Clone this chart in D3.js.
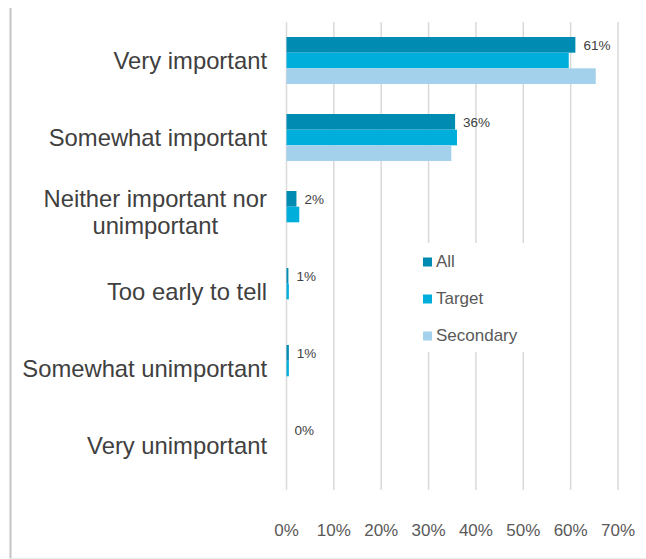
<!DOCTYPE html>
<html><head><meta charset="utf-8">
<script src="https://cdn.jsdelivr.net/npm/d3@7"></script>
<style>html,body{margin:0;padding:0;background:#fff;}svg{display:block;font-family:"Liberation Sans",Arial,sans-serif;}</style>
</head><body>
<svg id="c" width="646" height="559"></svg>
<script>
const categories = ["Very important","Somewhat important","Neither important nor unimportant","Too early to tell","Somewhat unimportant","Very unimportant"];
const categoryLines = [["Very important"],["Somewhat important"],["Neither important nor","unimportant"],["Too early to tell"],["Somewhat unimportant"],["Very unimportant"]];
const seriesNames = ["All","Target","Secondary"];
const allValues = [61.0, 35.6, 2.1, 0.4, 0.5, 0];
const targetValues = [59.6, 36.0, 2.7, 0.5, 0.5, 0];
const secondaryValues = [65.3, 34.8, 0, 0, 0, 0];
const allLabels = ["61%","36%","2%","1%","1%","0%"];
const tickValues = [0,10,20,30,40,50,60,70];
const colors = ["#008BB2","#00AEDB","#A3D1EB"];

const seriesValues = [allValues, targetValues, secondaryValues];
const svg = d3.select("#c");

svg.append("line").attr("x1",10.5).attr("x2",10.5).attr("y1",8).attr("y2",559)
  .attr("stroke","#c4c4c4").attr("stroke-width",2);
svg.append("line").attr("x1",10).attr("x2",646).attr("y1",558.5).attr("y2",558.5)
  .attr("stroke","#ececec").attr("stroke-width",1);

const x = d3.scaleLinear().domain([0,70]).range([286.5,618]);
const y = d3.scaleBand().domain(categories).range([22,484]).paddingInner(0.39).paddingOuter(0.195);
const yi = d3.scaleBand().domain(seriesNames).range([0,y.bandwidth()]);

svg.append("g").selectAll("line").data(tickValues).join("line")
  .attr("x1",d=>x(d)).attr("x2",d=>x(d)).attr("y1",22).attr("y2",490)
  .attr("stroke","#d9d9d9").attr("stroke-width",1.5);

svg.append("g").selectAll("text").data(tickValues).join("text")
  .attr("x",d=>x(d)).attr("y",536).attr("text-anchor","middle")
  .attr("font-size",17).attr("fill","#595959").text(d=>d+"%");

const groups = svg.append("g").selectAll("g").data(seriesNames).join("g")
  .attr("fill",(d,i)=>colors[i]);
groups.selectAll("rect").data((s,si)=>categories.map((c,ci)=>({c, s, v: seriesValues[si][ci]})))
  .join("rect")
  .attr("x",x(0)).attr("y",d=>y(d.c)+yi(d.s))
  .attr("width",d=>x(d.v)-x(0)).attr("height",yi.bandwidth())
  .attr("display",d=>d.v>0?null:"none");

svg.append("g").selectAll("text").data(categories).join("text")
  .attr("x",(c,i)=>x(allValues[i])+8)
  .attr("y",c=>y(c)+yi("All")+yi.bandwidth()/2+5)
  .attr("font-size",13.5).attr("fill","#404040").text((c,i)=>allLabels[i]);

const labelRight = 267;
const cl = svg.append("g").selectAll("g").data(categories).join("g");
cl.each(function(c,i){
  const lines = categoryLines[i];
  const cy = y(c)+y.bandwidth()/2;
  const g = d3.select(this);
  if(lines.length===1){
    g.append("text").attr("text-anchor","end").attr("font-size",23.8).attr("fill","#404040")
      .attr("x",labelRight).attr("y",cy+8.5).text(lines[0]);
  } else {
    const t0 = g.append("text").attr("text-anchor","end").attr("font-size",23.8).attr("fill","#404040")
      .attr("x",labelRight).attr("y",cy-7.5).text(lines[0]);
    const w = t0.node().getComputedTextLength();
    const cx = labelRight - w/2;
    lines.slice(1).forEach((l,k)=>g.append("text").attr("text-anchor","middle").attr("font-size",23.8)
      .attr("fill","#404040").attr("x",cx).attr("y",cy-7.5+(k+1)*27).text(l));
  }
});

const lg = svg.append("g");
lg.append("rect").attr("x",414).attr("y",243).attr("width",118).attr("height",109).attr("fill","#fff");
const legendBaselines = [267,304,341];
seriesNames.forEach((s,i)=>{
  lg.append("rect").attr("x",423).attr("y",legendBaselines[i]-9.5).attr("width",9).attr("height",9).attr("fill",colors[i]);
  lg.append("text").attr("x",436).attr("y",legendBaselines[i]).attr("font-size",17).attr("fill","#595959").text(s);
});
</script>
</body></html>
